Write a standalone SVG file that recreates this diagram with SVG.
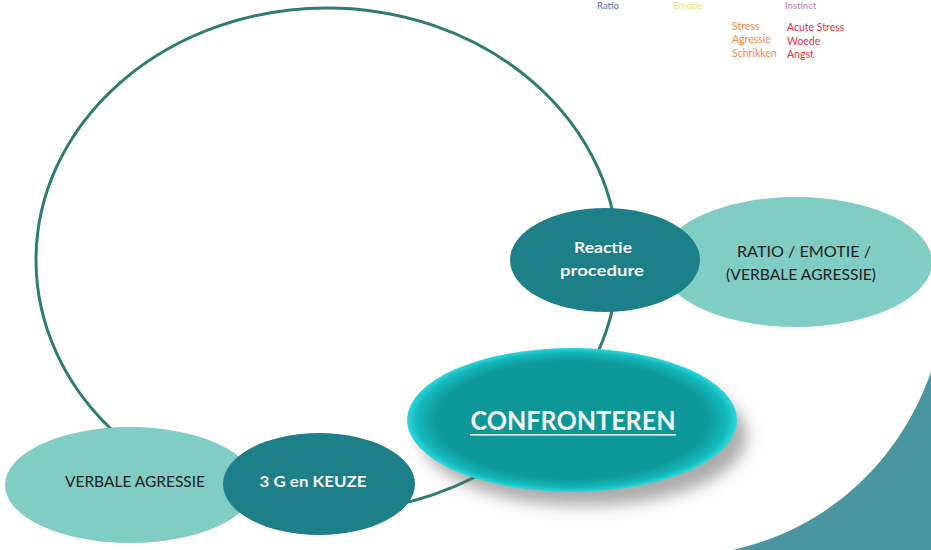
<svg xmlns="http://www.w3.org/2000/svg" width="931" height="550" viewBox="0 0 931 550">
<defs>
<style>
.lbl{font-family:Lato,"Open Sans","Liberation Sans",sans-serif;}
.dark{fill:#1D7F87;}
.light{fill:#80CDC5;}
.wt{fill:#F2F2F2;font-weight:bold;font-size:16px;text-anchor:middle;}
.bt{fill:#1E1E1E;font-size:15px;text-anchor:middle;}
.leg{font-size:10.5px;}
</style>
<radialGradient id="conf" cx="50%" cy="50%" r="50%">
<stop offset="0" stop-color="#0C9595"/>
<stop offset="0.82" stop-color="#0E9A9A"/>
<stop offset="0.94" stop-color="#14B8BB"/>
<stop offset="1" stop-color="#2AD9DC"/>
</radialGradient>
<filter id="shadow" x="-20%" y="-30%" width="150%" height="180%">
<feGaussianBlur stdDeviation="8"/>
</filter>
</defs>
<rect width="931" height="550" fill="#FFFFFF"/>
<path d="M931,372 C900,460 830,528 733,550 L931,550 Z" fill="#4A96A0"/>
<g id="legend" class="lbl leg">
<text x="597" y="9" fill="#6670B8" font-size="9.5">Ratio</text>
<text x="673" y="9" fill="#EBD978" font-size="9.5">Emotie</text>
<text x="785" y="9" fill="#C47A9E" font-size="9.5">Instinct</text>
<text x="732" y="29.5" fill="#F28A40">Stress</text>
<text x="732" y="43" fill="#F28A40">Agressie</text>
<text x="732" y="56.5" fill="#F28A40">Schrikken</text>
<text x="787" y="30.5" fill="#E8303A">Acute Stress</text>
<text x="787" y="44.5" fill="#E8303A">Woede</text>
<text x="787" y="57.5" fill="#E8303A">Angst</text>
</g>
<g id="connectors">
<ellipse cx="327" cy="260" rx="291" ry="252" fill="none" stroke="#2F7D70" stroke-width="3"/>
</g>
<g id="node-ratio">
<ellipse class="light" cx="796" cy="262" rx="136" ry="65"/>
<text class="lbl bt" x="804" y="257" textLength="134" lengthAdjust="spacingAndGlyphs">RATIO / EMOTIE /</text>
<text class="lbl bt" x="801" y="280" textLength="150" lengthAdjust="spacingAndGlyphs">(VERBALE AGRESSIE)</text>
</g>
<g id="node-reactie">
<ellipse class="dark" cx="605" cy="260" rx="95" ry="52"/>
<text class="lbl wt" x="603" y="253" textLength="58" lengthAdjust="spacingAndGlyphs">Reactie</text>
<text class="lbl wt" x="602" y="276" textLength="84" lengthAdjust="spacingAndGlyphs">procedure</text>
</g>
<g id="node-confronteren">
<ellipse cx="584" cy="436" rx="163" ry="70" fill="#666666" opacity="0.55" filter="url(#shadow)"/>
<ellipse cx="572" cy="420" rx="165" ry="72" fill="url(#conf)"/>
<text class="lbl" x="573" y="430" fill="#F2F2F2" font-size="26" font-weight="bold" text-anchor="middle" textLength="205" lengthAdjust="spacingAndGlyphs">CONFRONTEREN</text>
<rect x="470" y="434" width="206" height="1.6" fill="#E8F4F4"/>
</g>
<g id="node-verbale">
<ellipse class="light" cx="130" cy="485" rx="125" ry="58"/>
<text class="lbl bt" x="135" y="487" textLength="140" lengthAdjust="spacingAndGlyphs">VERBALE AGRESSIE</text>
</g>
<g id="node-3g">
<ellipse class="dark" cx="319" cy="484" rx="96" ry="51"/>
<text class="lbl wt" x="313" y="487" textLength="107" lengthAdjust="spacingAndGlyphs">3 G en KEUZE</text>
</g>
</svg>
